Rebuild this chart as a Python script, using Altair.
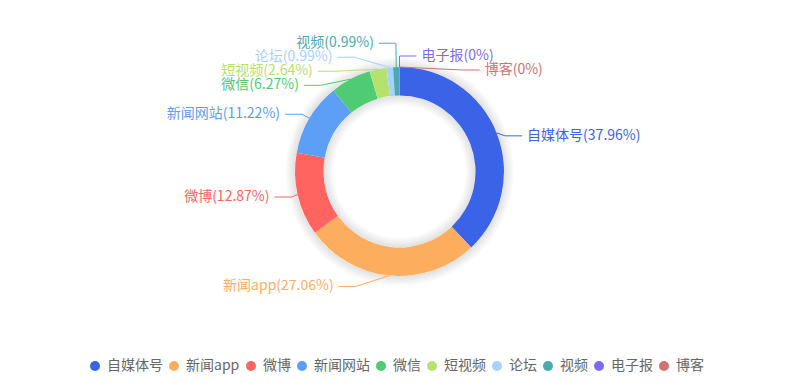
import math
import altair as alt
import pandas as pd

# ---------------- data ----------------
names = ["自媒体号", "新闻app", "微博", "新闻网站", "微信", "短视频", "论坛", "视频", "电子报", "博客"]
shares = [37.96, 27.06, 12.87, 11.22, 6.27, 2.64, 0.99, 0.99, 0.0, 0.0]
colors = ["#3B63E7", "#FDAD5E", "#FF6461", "#5D9EF6", "#4ECB73",
          "#B5E26F", "#A6D2FF", "#4BA9B2", "#7D6CF0", "#CE7371"]

# ---------------- layout constants ----------------
W, HP = 799, 343          # plot area (legend lives in bottom padding)
TOTAL_H = 382
CX, CY = W / 2, HP / 2
R_OUT, R_IN = 104.5, 76
L1, L2, GAP, LBL_H = 11, 17, 5, 14
FONT = "Noto Sans CJK SC"


def fmt_pct(v):
    s = f"{round(v, 2):.2f}".rstrip("0").rstrip(".")
    return s


# ---- label layout (pie outside labels with leader lines) ----
total = sum(shares)
items = []
acc = 0.0
for i, (n, v) in enumerate(zip(names, shares)):
    a0 = acc / total * 2 * math.pi
    acc += v
    a1 = acc / total * 2 * math.pi
    mid = (a0 + a1) / 2
    dx, dy = math.sin(mid), -math.cos(mid)
    if abs(dx) < 1e-9:
        dx = 0.0
    dirn = -1 if dx < 0 else 1
    x1, y1 = CX + R_OUT * dx, CY + R_OUT * dy
    x2, y2 = x1 + dx * L1, y1 + dy * L1
    x3 = x2 + dirn * L2
    items.append(dict(i=i, name=n, color=colors[i], x=x3 + dirn * GAP, y=y2,
                      x1=x1, y1=y1, dist=x2 - x3, h=LBL_H,
                      text=f"{n}({fmt_pct(v)}%)"))


def adjust_side(lst, dirn):
    if not lst:
        return
    lst.sort(key=lambda d: d["y"])
    n = len(lst)

    def shift_up(end, delta):
        for j in range(end, -1, -1):
            if lst[j]["y"] - delta < 0:
                break
            lst[j]["y"] -= delta
            if j > 0 and lst[j]["y"] > lst[j - 1]["y"] + lst[j - 1]["h"]:
                break

    def shift_down(start, end, delta):
        for j in range(start, end):
            if lst[j]["y"] + delta > TOTAL_H:
                break
            lst[j]["y"] += delta
            if j > start and j + 1 < end and lst[j + 1]["y"] > lst[j]["y"] + lst[j]["h"]:
                shift_up(j, delta / 2)
                return
        shift_up(end - 1, delta / 2)

    last_y = 0
    for k in range(n):
        delta = lst[k]["y"] - last_y
        if delta < 0:
            shift_down(k, n, -delta)
        last_y = lst[k]["y"] + lst[k]["h"]
    if TOTAL_H - last_y < 0:
        shift_up(n - 1, last_y - TOTAL_H)

    def change_x(group, is_down):
        last = float("inf") if is_down else 0.0
        for d in group:
            ddy = abs(d["y"] - CY)
            if ddy < R_OUT + L1:
                ddx = math.sqrt((R_OUT + L1 + L2) ** 2 - ddy ** 2)
            else:
                ddx = abs(d["x"] - CX)
            if is_down and ddx >= last:
                ddx = last - 10
            if (not is_down) and ddx <= last:
                ddx = last + 10
            d["x"] = CX + ddx * dirn
            last = ddx

    change_x([d for d in lst if d["y"] < CY], False)
    change_x([d for d in lst if d["y"] >= CY], True)


left = [d for d in items if d["x"] < CX]
right = [d for d in items if d["x"] >= CX]
adjust_side(left, -1)
adjust_side(right, 1)

label_rows, line_rows = [], []
for d in items:
    side = "L" if d["x"] < CX else "R"
    label_rows.append(dict(name=d["name"], text=d["text"], x=d["x"], y=d["y"],
                           col=d["color"], side=side))
    p3x = d["x"] + GAP if side == "L" else d["x"] - GAP
    p2x = p3x + d["dist"]
    for k, (px, py) in enumerate([(d["x1"], d["y1"]), (p2x, d["y"]), (p3x, d["y"])]):
        line_rows.append(dict(name=d["name"], pt=k, x=px, y=py, col=d["color"]))

df = pd.DataFrame({"name": names, "value": shares, "idx": list(range(len(names)))})
lab_df = pd.DataFrame(label_rows)
line_df = pd.DataFrame(line_rows)

# soft shadow rings around the donut
shadow_rows = []
for k in range(1, 11):
    shadow_rows.append(dict(r1=R_OUT + k, r2=R_OUT))
    shadow_rows.append(dict(r1=R_IN, r2=R_IN - k))
shadow_df = pd.DataFrame(shadow_rows)

xs = alt.Scale(domain=[0, W], range=[0, W], nice=False, zero=False)
ys = alt.Scale(domain=[0, HP], range=[0, HP], nice=False, zero=False)

shadow = alt.Chart(shadow_df).mark_arc(color="#000000", opacity=0.012).encode(
    radius=alt.Radius("r1:Q", scale=None),
    radius2="r2:Q",
    theta=alt.value(0),
    theta2=alt.value(2 * math.pi),
)

donut = alt.Chart(df).mark_arc(innerRadius=R_IN, outerRadius=R_OUT).encode(
    theta=alt.Theta("value:Q", stack=True),
    order=alt.Order("idx:Q"),
    color=alt.Color(
        "name:N",
        scale=alt.Scale(domain=names, range=colors),
        legend=alt.Legend(
            title=None, orient="none", direction="horizontal",
            legendX=88, legendY=359,
            symbolType="circle", symbolSize=100, symbolStrokeWidth=0,
            labelFontSize=14, labelFont=FONT, labelColor="#666666",
            labelOffset=5, columnPadding=4, padding=0, labelLimit=200,
        ),
    ),
)

lines = alt.Chart(line_df).mark_line(strokeWidth=1).encode(
    x=alt.X("x:Q", scale=xs, axis=None),
    y=alt.Y("y:Q", scale=ys, axis=None),
    detail="name:N",
    order="pt:Q",
    stroke=alt.Stroke("col:N", scale=None),
)

text_left = alt.Chart(lab_df).transform_filter(alt.datum.side == "L").mark_text(
    align="right", baseline="middle", fontSize=14, font=FONT
).encode(
    x=alt.X("x:Q", scale=xs, axis=None),
    y=alt.Y("y:Q", scale=ys, axis=None),
    text="text:N",
    fill=alt.Fill("col:N", scale=None),
)

text_right = alt.Chart(lab_df).transform_filter(alt.datum.side == "R").mark_text(
    align="left", baseline="middle", fontSize=14, font=FONT
).encode(
    x=alt.X("x:Q", scale=xs, axis=None),
    y=alt.Y("y:Q", scale=ys, axis=None),
    text="text:N",
    fill=alt.Fill("col:N", scale=None),
)

chart = alt.layer(shadow, donut, lines, text_left, text_right).properties(
    width=W, height=HP,
    autosize=alt.AutoSizeParams(type="none"),
    padding={"left": 0, "right": 0, "top": 0, "bottom": TOTAL_H - HP},
    background="#ffffff",
).configure_view(stroke=None)

chart.save("out.html", embed_options={"renderer": "svg", "actions": False})
